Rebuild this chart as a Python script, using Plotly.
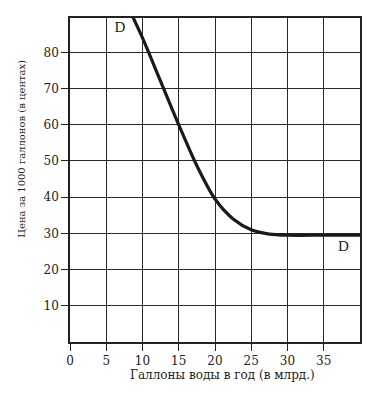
import plotly.graph_objects as go

# Demand curve data
gallons = [8.5, 10, 12.5, 15, 17.5, 20, 22.5, 25, 27.5, 30, 35, 40]
price = [90.5, 84, 72, 60, 48.7, 39.5, 34, 31, 29.8, 29.5, 29.5, 29.5]

x_ticks = [0, 5, 10, 15, 20, 25, 30, 35]
y_ticks = [10, 20, 30, 40, 50, 60, 70, 80]

label_text = ["D", "D"]
label_x = [6.9, 37.7]
label_y = [86.8, 26.2]

x_title = "Галлоны воды в год (в млрд.)"
y_title = "Цена за 1000 галлонов (в центах)"

font_family = "DejaVu Serif, Liberation Serif, serif"
ink = "#222"

fig = go.Figure()
fig.add_trace(go.Scatter(
    x=gallons, y=price, mode="lines",
    line=dict(color="#1a1a1a", width=3.2, shape="spline", smoothing=0.8),
    showlegend=False, hoverinfo="skip"))
fig.add_trace(go.Scatter(
    x=label_x, y=label_y, mode="text", text=label_text,
    textfont=dict(family="Liberation Serif, serif", size=15, color=ink),
    showlegend=False, hoverinfo="skip"))

# page body has an 8px margin, so the figure is slightly smaller than the window
fig.update_layout(
    width=367, height=388,
    margin=dict(l=62, r=15, t=10, b=54),
    paper_bgcolor="white", plot_bgcolor="white",
    font=dict(family=font_family, size=12, color=ink),
    annotations=[
        dict(text=x_title, xref="paper", yref="paper", x=0.525, y=-0.102,
             xanchor="center", yanchor="middle", showarrow=False,
             font=dict(family=font_family, size=12, color=ink)),
        dict(text=y_title, xref="paper", yref="paper", x=-0.166, y=0.596,
             xanchor="center", yanchor="middle", showarrow=False, textangle=-90,
             font=dict(family=font_family, size=10, color=ink)),
    ],
)
common = dict(
    showgrid=True, gridcolor="#2a2a2a", gridwidth=1.4,
    showline=True, linecolor=ink, linewidth=1.5, mirror=True,
    ticks="outside", ticklen=7, tickcolor=ink, tickwidth=1.4,
    zeroline=False, automargin=False,
    tickfont=dict(family=font_family, size=12, color=ink),
)
fig.update_xaxes(range=[0, 40], tickvals=x_ticks,
                 ticktext=[str(v) for v in x_ticks], **common)
fig.update_yaxes(range=[0, 89.5], tickvals=y_ticks,
                 ticktext=[str(v) for v in y_ticks], **common)

fig.write_html("out.html")
